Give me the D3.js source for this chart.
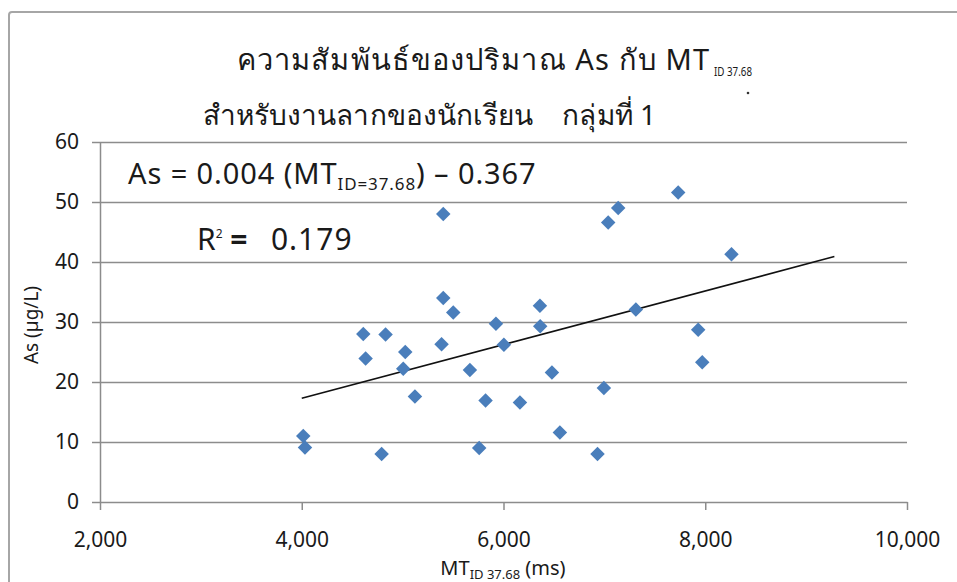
<!DOCTYPE html>
<html>
<head>
<meta charset="utf-8">
<script src="https://cdn.jsdelivr.net/npm/d3@7"></script>
<style>
  body { margin: 0; background: #fff; }
  svg text { font-family: "Noto Sans", "Open Sans", sans-serif; fill: #1a1a1a; }
</style>
</head>
<body>
<div id="chart"></div>
<script>
var width = 957, height = 582;
var margin = { top: 142, right: 50, bottom: 80, left: 100 };

// data: MT (ms) and As (µg/L)
var mtValues = [4015, 4032, 4610, 4633, 4831, 4792, 5026, 5006, 5122, 5403, 5502, 5386, 5403, 5667, 5822, 5759,
  5925, 6004, 6163, 6361, 6364, 6480, 6559, 6932, 6995, 7038, 7137, 7312, 7732, 7930, 7970, 8260];
var asValues = [11.0, 9.1, 28.0, 23.9, 27.9, 8.0, 25.0, 22.2, 17.6, 34.0, 31.6, 26.3, 48.0, 22.0, 16.9, 9.0,
  29.7, 26.2, 16.6, 32.7, 29.3, 21.6, 11.6, 8.0, 19.0, 46.6, 49.0, 32.1, 51.6, 28.7, 23.3, 41.3];

// trend line end points
var trendX = [4000, 9280];
var trendY = [17.3, 40.9];

var xTicks = [2000, 4000, 6000, 8000, 10000];
var yTicks = [0, 10, 20, 30, 40, 50, 60];

var svg = d3.select("#chart")
  .append("svg")
  .attr("width", width)
  .attr("height", height);

// outer frame (right and bottom edges fall off the picture)
svg.append("rect")
  .attr("x", 9)
  .attr("y", 12)
  .attr("width", 980)
  .attr("height", 600)
  .attr("rx", 3)
  .attr("fill", "none")
  .attr("stroke", "#a6a6a6")
  .attr("stroke-width", 2);

var xScale = d3.scaleLinear()
  .domain([2000, 10000])
  .range([margin.left, 907]);

var yScale = d3.scaleLinear()
  .domain([0, 60])
  .range([502, margin.top]);

// grid
var yGrid = d3.axisLeft(yScale)
  .tickValues(yTicks.slice(1))
  .tickSize(-(907 - margin.left))
  .tickFormat("");

svg.append("g")
  .attr("class", "grid")
  .attr("transform", `translate(${margin.left},0)`)
  .call(yGrid)
  .call(g => g.select(".domain").remove())
  .selectAll("line")
  .style("stroke", "#8c8c8c")
  .style("stroke-width", 1.5);

// Y axis
svg.append("g")
  .attr("class", "y-axis")
  .attr("transform", `translate(${margin.left},0)`)
  .call(d3.axisLeft(yScale).tickValues(yTicks).tickSize(8).tickPadding(13).tickSizeOuter(0))
  .call(g => g.selectAll("line, path").style("stroke", "#8c8c8c").style("stroke-width", 1.5))
  .selectAll("text")
  .style("font-size", "21px")
  .style("fill", "#1a1a1a");

// X axis
svg.append("g")
  .attr("class", "x-axis")
  .attr("transform", `translate(0,${yScale(0)})`)
  .call(d3.axisBottom(xScale).tickValues(xTicks).tickSize(8).tickPadding(22).tickSizeOuter(0)
    .tickFormat(d3.format(",")))
  .call(g => g.selectAll("line, path").style("stroke", "#8c8c8c").style("stroke-width", 1.5))
  .selectAll("text")
  .style("font-size", "21px")
  .style("fill", "#1a1a1a");

// trend line
var trend = d3.line()
  .x(d => xScale(d[0]))
  .y(d => yScale(d[1]));

svg.append("path")
  .attr("class", "trend")
  .attr("d", trend(d3.zip(trendX, trendY)))
  .attr("fill", "none")
  .style("stroke", "#111")
  .style("stroke-width", 1.6);

// diamond markers
var points = d3.zip(mtValues, asValues);
var diamond = d3.symbol().type(d3.symbolSquare).size(105);

svg.append("g")
  .attr("class", "dots")
  .selectAll("path")
  .data(points)
  .enter()
  .append("path")
  .attr("d", diamond)
  .attr("transform", d => `translate(${xScale(d[0])},${yScale(d[1])}) rotate(45)`)
  .style("fill", "#4a7ebb");

// titles
var title1 = svg.append("text")
  .attr("x", 237)
  .attr("y", 70)
  .style("font-size", "29px");
title1.append("tspan").attr("textLength", 472).text("ความสัมพันธ์ของปริมาณ As กับ MT");
title1.append("tspan").attr("x", 714).attr("dy", 6).attr("textLength", 38)
  .attr("lengthAdjust", "spacingAndGlyphs").style("font-size", "13px").text("ID 37.68");

svg.append("text")
  .attr("x", 203)
  .attr("y", 125)
  .attr("textLength", 453)
  .style("font-size", "28px")
  .style("white-space", "pre")
  .attr("xml:space", "preserve")
  .text("สำหรับงานลากของนักเรียน    กลุ่มที่ 1");

svg.append("circle")
  .attr("cx", 748)
  .attr("cy", 93)
  .attr("r", 1.3)
  .attr("fill", "#333");

// regression equation
var eq = svg.append("text")
  .attr("x", 128)
  .attr("y", 184)
  .style("font-size", "29px")
  .style("letter-spacing", "0.9px");
eq.append("tspan").text("As = 0.004 (MT");
eq.append("tspan").attr("dy", 6).style("font-size", "17px").text("ID=37.68");
eq.append("tspan").attr("dy", -6).text(") \u2013 0.367");

var r2 = svg.append("text")
  .attr("x", 197)
  .attr("y", 250)
  .style("font-size", "30px")
  .style("white-space", "pre")
  .attr("xml:space", "preserve");
r2.append("tspan").text("R");
r2.append("tspan").attr("dy", -12).style("font-size", "12px").text("2");
r2.append("tspan").attr("dy", 12).style("font-weight", "bold").text(" =   ");
r2.append("tspan").style("letter-spacing", "1px").text("0.179");

// axis titles
svg.append("text")
  .attr("transform", "translate(38,325) rotate(-90)")
  .attr("text-anchor", "middle")
  .style("font-size", "19px")
  .text("As (µg/L)");

var xt = svg.append("text")
  .attr("x", 503)
  .attr("y", 575)
  .attr("text-anchor", "middle")
  .style("font-size", "20px");
xt.append("tspan").text("MT");
xt.append("tspan").attr("dy", 4).style("font-size", "13px").text("ID 37.68");
xt.append("tspan").attr("dy", -4).text(" (ms)");
</script>
</body>
</html>
